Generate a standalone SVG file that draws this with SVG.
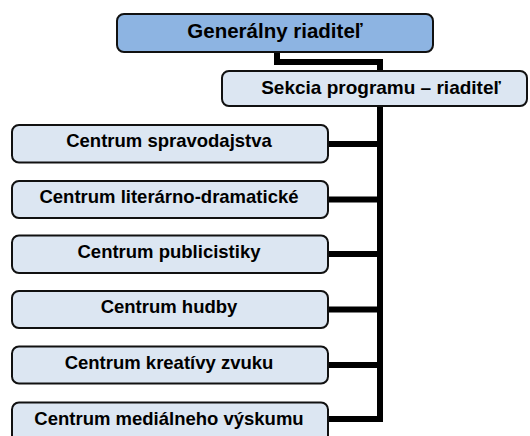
<svg xmlns="http://www.w3.org/2000/svg" width="530" height="436" viewBox="0 0 530 436">
<style>
.box{stroke:#111;stroke-width:2}
.top{fill:#8DB4E2}
.sub{fill:#DCE6F2}
text{font-family:"Liberation Sans",Arial,sans-serif;font-weight:bold;fill:#000;text-anchor:middle}
.tc{font-size:18.5px}
.ts{font-size:19px}
.tt{font-size:20.5px}
.con{fill:none;stroke:#000;stroke-width:6;stroke-linejoin:miter}
</style>
<rect width="530" height="436" fill="#fff"/>
<g id="connectors">
<polyline class="con" points="277,52 277,62 380,62 380,71"/>
<polyline class="con" points="380,105 380,419 328,419"/>
<line class="con" x1="328" y1="144" x2="380" y2="144"/>
<line class="con" x1="328" y1="199.5" x2="380" y2="199.5"/>
<line class="con" x1="328" y1="254" x2="380" y2="254"/>
<line class="con" x1="328" y1="309.5" x2="380" y2="309.5"/>
<line class="con" x1="328" y1="365" x2="380" y2="365"/>
</g>
<g id="n0">
<rect class="box top" x="117" y="14" width="316" height="38" rx="7"/>
<text class="tt" x="275" y="37.5">Generálny riaditeľ</text>
</g>
<g id="n1">
<rect class="box sub" x="222" y="71" width="305" height="35" rx="7"/>
<text class="ts" x="381" y="94">Sekcia programu – riaditeľ</text>
</g>
<g id="n2">
<rect class="box sub" x="12" y="125" width="316" height="37.5" rx="7"/>
<text class="tc" x="169" y="147">Centrum spravodajstva</text>
</g>
<g id="n3">
<rect class="box sub" x="12" y="181" width="316" height="37" rx="7"/>
<text class="tc" x="169" y="203">Centrum literárno-dramatické</text>
</g>
<g id="n4">
<rect class="box sub" x="12" y="235.5" width="316" height="37.5" rx="7"/>
<text class="tc" x="169" y="257.5">Centrum publicistiky</text>
</g>
<g id="n5">
<rect class="box sub" x="12" y="291" width="316" height="37" rx="7"/>
<text class="tc" x="169" y="313">Centrum hudby</text>
</g>
<g id="n6">
<rect class="box sub" x="12" y="346.5" width="316" height="37" rx="7"/>
<text class="tc" x="169" y="368.5">Centrum kreatívy zvuku</text>
</g>
<g id="n7">
<rect class="box sub" x="12" y="402.5" width="316" height="40" rx="7"/>
<text class="tc" x="169" y="424.5">Centrum mediálneho výskumu</text>
</g>
</svg>
